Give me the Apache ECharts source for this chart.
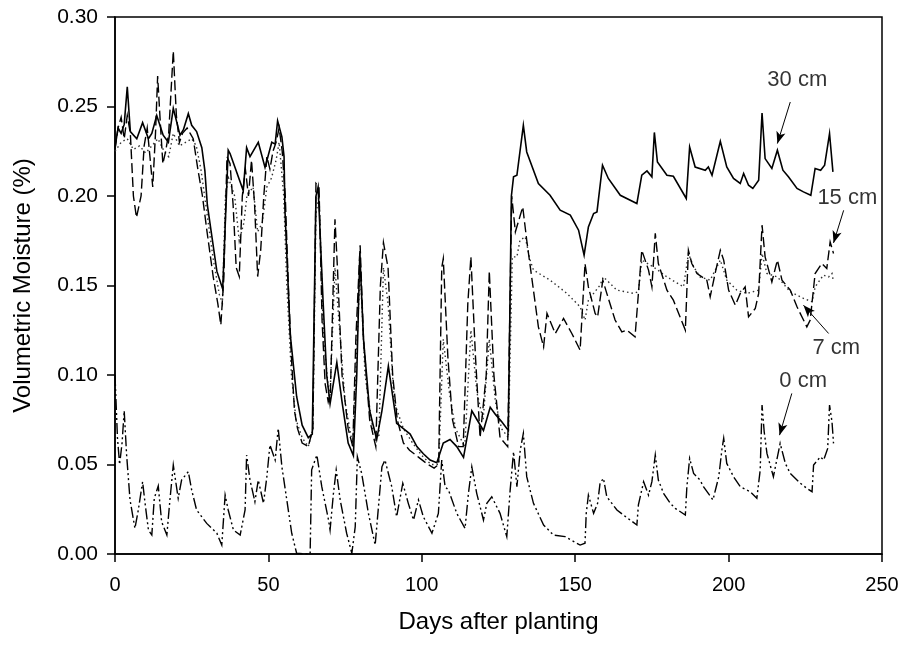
<!DOCTYPE html>
<html><head><meta charset="utf-8">
<script src="https://cdn.jsdelivr.net/npm/echarts@6/dist/echarts.min.js"></script>
<style>html,body{margin:0;padding:0;background:#fff}#c{width:903px;height:646px}</style>
</head><body><div id="c"></div>
<script>
// ---- data: [day, volumetric moisture] ----
const cm30 = [[0,0.227],[1,0.238],[2,0.235],[3,0.24],[4,0.261],[5,0.236],[7.1,0.232],[9,0.241],[10.9,0.232],[12,0.235],[13.6,0.245],[15.7,0.234],[17.4,0.230],[19,0.249],[21.2,0.234],[22.3,0.237],[23.9,0.246],[25,0.2395],[26.6,0.236],[28.3,0.227],[29.3,0.214],[30.1,0.195],[33.2,0.158],[35.1,0.148],[36.9,0.2256],[37.5,0.2237],[41.8,0.203],[42.9,0.227],[44,0.222],[46.7,0.230],[48.9,0.216],[51.1,0.230],[52.2,0.229],[53,0.242],[54.4,0.233],[55.1,0.222],[55.4,0.192],[57.1,0.123],[59.2,0.088],[61,0.072],[63,0.065],[64.3,0.067],[65.5,0.2],[66.2,0.205],[67.8,0.142],[69,0.1],[70.1,0.084],[72.3,0.107],[74,0.085],[76,0.062],[77.7,0.055],[78.8,0.1],[79.8,0.168],[81,0.12],[83,0.08],[85.3,0.064],[87,0.08],[89.1,0.105],[91.8,0.073],[94,0.07],[96.2,0.067],[98.4,0.06],[100.5,0.056],[102.7,0.0525],[104.9,0.051],[107,0.062],[109.2,0.064],[111.4,0.06],[113.6,0.054],[116.3,0.080],[118,0.075],[120.1,0.069],[122.3,0.082],[124,0.078],[126,0.074],[128.2,0.069],[129.2,0.2],[129.9,0.2107],[131,0.2116],[133.1,0.2395],[134.2,0.2246],[138,0.207],[141.8,0.2004],[145.1,0.1921],[148.4,0.1893],[151.1,0.1809],[152.9,0.167],[154.3,0.1827],[156,0.1902],[157.1,0.1911],[158.9,0.2172],[160.8,0.2098],[164.7,0.2004],[170.1,0.1958],[171.7,0.2116],[173.4,0.214],[175,0.2107],[175.8,0.2355],[176.8,0.219],[179.9,0.2116],[182,0.211],[186.2,0.1986],[187.3,0.2274],[189.1,0.2162],[192.4,0.2144],[193.4,0.2162],[194.6,0.2116],[197.3,0.2306],[199.4,0.2162],[201.6,0.2098],[203.8,0.207],[204.9,0.2126],[206.5,0.206],[207.9,0.2042],[209.8,0.2088],[210.9,0.2464],[211.9,0.2209],[214.1,0.2154],[215.9,0.2256],[217.7,0.2144],[219.5,0.2107],[222.3,0.2042],[224.4,0.2023],[226.8,0.2004],[228.2,0.2154],[230,0.2144],[231.3,0.2172],[232.9,0.2349],[234,0.2135]];

const cm15 = [[0,0.226],[1,0.238],[2,0.244],[3,0.232],[4,0.245],[5,0.235],[6,0.2],[7,0.188],[8.5,0.2],[9.5,0.228],[10.5,0.238],[11.5,0.22],[12.3,0.205],[13.2,0.235],[13.9,0.267],[14.8,0.24],[15.6,0.218],[16.5,0.225],[17.5,0.235],[19,0.281],[20,0.245],[21,0.23],[22,0.235],[23.5,0.238],[24.5,0.235],[25.5,0.232],[27,0.215],[28.5,0.2],[30,0.18],[32,0.155],[33.5,0.14],[34.5,0.128],[35.5,0.155],[36.5,0.222],[37.5,0.218],[38.5,0.195],[39.5,0.16],[40.5,0.155],[41.5,0.2],[42.5,0.215],[43.5,0.2],[44.5,0.22],[45.5,0.195],[46.5,0.155],[47.5,0.17],[48.5,0.2],[49.5,0.222],[50.5,0.215],[51.5,0.225],[52.5,0.23],[53.5,0.238],[54.5,0.225],[55.5,0.2],[56.5,0.15],[57.5,0.11],[58.5,0.08],[59.5,0.07],[61,0.062],[63,0.06],[64.5,0.07],[65.5,0.207],[66.5,0.205],[67.5,0.13],[68.5,0.095],[69.5,0.085],[70.2,0.09],[71.7,0.187],[72.5,0.16],[74,0.1],[76,0.07],[77.5,0.06],[78.5,0.12],[79.9,0.1725],[81,0.12],[83,0.075],[85,0.06],[86.5,0.15],[87.5,0.174],[89,0.16],[90.5,0.1],[92,0.075],[94,0.062],[96,0.058],[99,0.054],[102,0.05],[104,0.048],[105.5,0.05],[106.5,0.16],[107,0.165],[108.5,0.11],[110,0.075],[112,0.06],[113.5,0.06],[115,0.14],[116,0.166],[117.5,0.11],[119,0.065],[121,0.1],[122,0.158],[123.5,0.1],[125.5,0.065],[128,0.06],[129.3,0.2],[130.5,0.18],[132.9,0.1939],[134.2,0.1753],[138,0.1269],[139.7,0.1157],[140.8,0.1344],[143.5,0.1232],[146.2,0.1316],[148.9,0.1232],[151.6,0.1139],[153.2,0.1623],[154.3,0.1492],[156.5,0.1344],[157.3,0.1325],[159,0.153],[160.3,0.1456],[163,0.1307],[165.2,0.1241],[166.8,0.1251],[169.5,0.1213],[171.7,0.1697],[173.9,0.1586],[175,0.1492],[176.1,0.1791],[177.1,0.1623],[179.9,0.1474],[182,0.1418],[185.9,0.1251],[186.9,0.1697],[188,0.1623],[189.7,0.1567],[192.9,0.153],[194,0.1437],[195.6,0.1567],[197.3,0.1697],[198.4,0.1642],[200,0.1474],[202.2,0.139],[203.8,0.1456],[205.4,0.1492],[206.5,0.1325],[208.7,0.1372],[209.8,0.1456],[210.9,0.1837],[211.9,0.166],[214.1,0.152],[215.9,0.1642],[217.4,0.153],[220.1,0.1474],[222.3,0.1381],[225.5,0.1269],[226.6,0.1307],[228.2,0.1567],[230.4,0.1623],[232,0.1595],[233.1,0.1744],[234.2,0.1679]];

const cm7 = [[0,0.225],[2,0.23],[4,0.232],[6,0.226],[8,0.228],[10,0.224],[12,0.228],[14,0.232],[16,0.225],[17.5,0.222],[19,0.235],[21,0.228],[23,0.23],[25,0.232],[26.5,0.228],[28,0.215],[30,0.19],[32,0.165],[34,0.145],[35,0.14],[36,0.2],[37,0.21],[39,0.2],[40.5,0.175],[42,0.185],[43,0.2],[45,0.205],[46.5,0.18],[48,0.185],[49.5,0.205],[51,0.21],[52.5,0.22],[53.5,0.23],[55,0.2],[56,0.15],[57.5,0.1],[59,0.075],[61,0.065],[63,0.06],[64.5,0.07],[65.5,0.19],[66.5,0.2],[68,0.12],[70,0.085],[71.7,0.16],[73,0.13],[75,0.085],[77.5,0.06],[79.9,0.16],[81.5,0.1],[84,0.07],[86,0.065],[87.5,0.16],[89,0.14],[91,0.085],[94,0.07],[97,0.062],[100,0.055],[103,0.05],[105.5,0.05],[107,0.12],[109,0.09],[111,0.07],[114,0.06],[116,0.125],[118,0.09],[120,0.075],[122,0.12],[124,0.085],[126,0.07],[128.2,0.065],[129.5,0.166],[131,0.166],[132,0.1753],[133.7,0.1772],[135.3,0.1642],[136.4,0.1586],[141.8,0.153],[147.3,0.1456],[151.6,0.1381],[153.2,0.1307],[154.3,0.1418],[158.1,0.1502],[159.2,0.1548],[163.6,0.1474],[169,0.1456],[170.6,0.1465],[171.7,0.1642],[175.5,0.1604],[179.9,0.1548],[185.3,0.1492],[186.9,0.1679],[188.6,0.1604],[190.7,0.1548],[194,0.153],[197.3,0.1642],[199.4,0.153],[202.7,0.1474],[206,0.1456],[209.8,0.1474],[210.9,0.1679],[212.5,0.1567],[215.9,0.1548],[220.1,0.1465],[224.4,0.1428],[227.2,0.1409],[228.2,0.1492],[230.9,0.1558],[232.6,0.1548],[233.7,0.1567],[234.2,0.152]];

const cm0 = [[0,0.1],[0.8,0.065],[1.5,0.05],[2.3,0.062],[3,0.08],[3.8,0.055],[4.9,0.0302],[6.5,0.0143],[7.6,0.0246],[9,0.0404],[9.8,0.0283],[10.9,0.0134],[12,0.0106],[12.8,0.0311],[14.1,0.038],[15.2,0.018],[16.9,0.0106],[17.9,0.0302],[19,0.0497],[20.6,0.0311],[21.7,0.0413],[23.9,0.046],[25,0.0357],[26.6,0.0246],[29.9,0.0171],[33.2,0.0116],[34.8,0.005],[35.9,0.0329],[36.9,0.0246],[38.6,0.0134],[40.8,0.0106],[42.4,0.0246],[42.9,0.0553],[44,0.0413],[45.6,0.0292],[46.7,0.0413],[48.4,0.0283],[49.5,0.0432],[50.5,0.0609],[52.2,0.0525],[53.2,0.0702],[54.4,0.0487],[56,0.0302],[57.6,0.0116],[59.2,0.0004],[63.6,0],[64.1,0.047],[65.8,0.0553],[67.4,0.0376],[69.6,0.019],[70.1,0.0134],[71.2,0.0339],[72.1,0.0469],[73.4,0.0302],[75.5,0.0116],[77.2,0.0004],[78.3,0.0152],[79,0.0543],[80.4,0.045],[82.6,0.0227],[84.8,0.005],[87,0.0487],[88,0.0525],[90.2,0.0376],[91.8,0.0208],[93.8,0.0395],[95.6,0.0283],[97.3,0.019],[98.9,0.0302],[100.5,0.0208],[103.3,0.0116],[105.4,0.0227],[106.5,0.0525],[107.6,0.0376],[108.7,0.0357],[111.4,0.0227],[114.1,0.0143],[115.2,0.0339],[116.3,0.0487],[117.9,0.0339],[120.1,0.019],[121.2,0.0283],[122.8,0.032],[125.5,0.0227],[127.7,0.0097],[128.8,0.0357],[129.9,0.0571],[131,0.0376],[132.1,0.0581],[133.1,0.0674],[134.2,0.0432],[136.4,0.0283],[139.7,0.0162],[142.9,0.0106],[146.7,0.0097],[151.6,0.005],[153.2,0.006],[153.6,0.0227],[154.3,0.0329],[156,0.0227],[157.3,0.0283],[158.1,0.0395],[159.2,0.0423],[160.3,0.032],[163.6,0.0246],[165.7,0.0218],[170.1,0.0162],[170.6,0.0274],[172.3,0.0404],[173.9,0.0329],[175,0.0404],[176.1,0.0553],[177.1,0.0413],[178.8,0.0339],[181,0.0283],[182.6,0.0255],[185.9,0.0218],[186.4,0.0376],[187.3,0.0534],[188.6,0.045],[190.7,0.0413],[191.8,0.0376],[194.9,0.0302],[196.8,0.0432],[197.8,0.0581],[198.4,0.0646],[199.4,0.0506],[201.6,0.0432],[203.8,0.0376],[207,0.0348],[209.2,0.0311],[210.3,0.0469],[210.9,0.0832],[211.6,0.0683],[212.5,0.0562],[214.6,0.0432],[215.7,0.0525],[216.8,0.0618],[218.5,0.0506],[220.1,0.045],[223.4,0.0395],[225.5,0.0367],[227.2,0.0348],[227.7,0.0497],[229.9,0.0543],[231,0.0525],[232.3,0.059],[232.9,0.0832],[233.7,0.0739],[234.2,0.0618]];

// annotation labels [day, value, text] and arrows [fromDay, fromVal, toDay, toVal]
const labelPos = [[222.4,0.2647,'30 cm'],[238.7,0.1988,'15 cm'],[235.1,0.115,'7 cm'],[224.3,0.0966,'0 cm']];
const arrows = [[220.1,0.2525,215.9,0.2293],[237.5,0.192,234.2,0.1738],[232.6,0.1232,224.4,0.139],[220.6,0.0897,216.6,0.0664]];

const xTicks = {min:0, max:250, interval:50};
const yTicks = {min:0, max:0.30, interval:0.05};

const FONT = '"Liberation Sans", Arial, sans-serif';
const chart = echarts.init(document.getElementById('c'), null, {renderer:'canvas'});
function line(name, data, dash, width, color, z){
  return {name, type:'line', data, symbol:'none', z, silent:true, animation:false,
    lineStyle:{color, width, type:dash, cap:'butt', join:'miter'}};
}
const option = {
  animation:false,
  backgroundColor:'#fff',
  grid:{left:115, right:21, top:17, bottom:92, show:true, borderColor:'#000', borderWidth:1.5},
  xAxis:{type:'value', min:xTicks.min, max:xTicks.max, interval:xTicks.interval,
    axisLine:{show:true, onZero:false, lineStyle:{color:'#000', width:1.5}},
    axisTick:{show:true, length:8, lineStyle:{color:'#000', width:1.5}},
    axisLabel:{color:'#000', fontSize:20, fontFamily:FONT, margin:21},
    splitLine:{show:false},
    name:'Days after planting', nameLocation:'middle', nameGap:56,
    nameTextStyle:{color:'#000', fontSize:24, fontFamily:FONT}},
  yAxis:{type:'value', min:yTicks.min, max:yTicks.max, interval:yTicks.interval,
    axisLine:{show:true, onZero:false, lineStyle:{color:'#000', width:1.5}},
    axisTick:{show:true, length:8, lineStyle:{color:'#000', width:1.5}},
    axisLabel:{color:'#000', fontSize:21, fontFamily:FONT, margin:17, formatter:v=>v.toFixed(2)},
    splitLine:{show:false},
    name:'Volumetric Moisture (%)', nameLocation:'middle', nameGap:80, nameRotate:90,
    nameTextStyle:{color:'#000', fontSize:24, fontFamily:FONT}},
  series:[
    line('0 cm', cm0, [11,3,2,3,2,3], 1.4, '#000', 2),
    line('7 cm', cm7, [1.5,3], 1.4, '#333', 3),
    line('15 cm', cm15, [10,4], 1.4, '#000', 4),
    line('30 cm', cm30, 'solid', 1.6, '#000', 5),
    {type:'scatter', data:labelPos, symbolSize:0, silent:true, z:10,
      label:{show:true, position:'inside', formatter:p=>p.data[2], color:'#000', fontSize:22, fontFamily:FONT},
      markLine:{silent:true, symbol:['none','arrow'], symbolSize:[7,12], animation:false,
        lineStyle:{color:'#000', width:1, type:'solid'}, label:{show:false},
        data: arrows.map(a=>[{coord:[a[0],a[1]]},{coord:[a[2],a[3]]}])}}
  ]
};
chart.setOption(option);
</script></body></html>
